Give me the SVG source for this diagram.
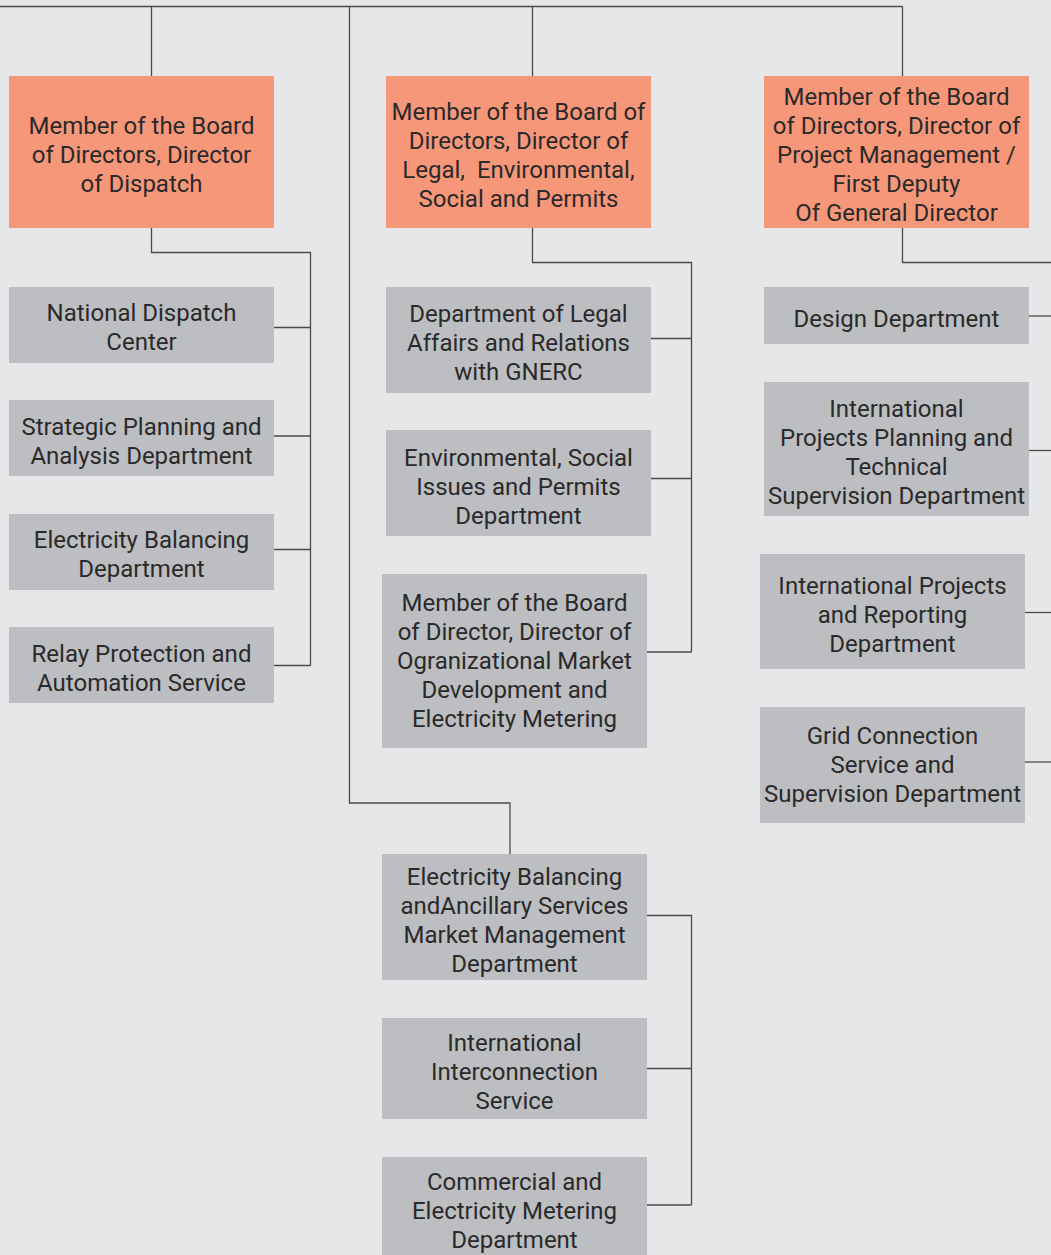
<svg xmlns="http://www.w3.org/2000/svg" width="1051" height="1255" viewBox="0 0 1051 1255">
<style>
.bg{fill:#e6e7e9}
.lead{fill:#f7977a}
.unit{fill:#bdbec1}
text{font-family:Roboto,"Noto Sans","DejaVu Sans",sans-serif;font-size:24px;fill:#2a2a2a;text-anchor:middle}
.pre{white-space:pre}
.conn path{fill:none;stroke:#4a4a4a;stroke-width:1.3}
</style>
<rect class="bg" x="0" y="0" width="1051" height="1255"/>
<g class="conn" id="connectors">
<path d="M0 6.5H902.5"/>
<path d="M151.5 6.5V76"/>
<path d="M349.5 6.5V803H510V854"/>
<path d="M532.5 6.5V76"/>
<path d="M902.5 6.5V76"/>
<path d="M151.5 228V252.5H310.5V665.5"/>
<path d="M274 327.5H310.5"/>
<path d="M274 436H310.5"/>
<path d="M274 549.5H310.5"/>
<path d="M274 665.5H310.5"/>
<path d="M532.5 228V262.5H691.5V652"/>
<path d="M651 338.5H691.5"/>
<path d="M651 478.5H691.5"/>
<path d="M647 652H691.5"/>
<path d="M647 915.5H691.5V1205"/>
<path d="M647 1068.5H691.5"/>
<path d="M647 1205H691.5"/>
<path d="M902.5 228V262.5H1051"/>
<path d="M1029 316H1051"/>
<path d="M1029 450.5H1051"/>
<path d="M1025 612.5H1051"/>
<path d="M1025 762H1051"/>
</g>
<g id="dir-dispatch">
<rect class="lead" x="9" y="76" width="265" height="152"/>
<text x="141.5" y="134">Member of the Board</text>
<text x="141.5" y="163">of Directors, Director</text>
<text x="141.5" y="192">of Dispatch</text>
</g>
<g id="dir-legal">
<rect class="lead" x="386" y="76" width="265" height="152"/>
<text x="518.5" y="120">Member of the Board of</text>
<text x="518.5" y="149">Directors, Director of</text>
<text class="pre" xml:space="preserve" x="518.5" y="178">Legal,  Environmental,</text>
<text x="518.5" y="207">Social and Permits</text>
</g>
<g id="dir-project">
<rect class="lead" x="764" y="76" width="265" height="152"/>
<text x="896.5" y="105">Member of the Board</text>
<text x="896.5" y="134">of Directors, Director of</text>
<text x="896.5" y="163">Project Management /</text>
<text x="896.5" y="192">First Deputy</text>
<text x="896.5" y="221">Of General Director</text>
</g>
<g id="national-dispatch">
<rect class="unit" x="9" y="287" width="265" height="76"/>
<text x="141.5" y="321">National Dispatch</text>
<text x="141.5" y="350">Center</text>
</g>
<g id="strategic-planning">
<rect class="unit" x="9" y="400" width="265" height="76"/>
<text x="141.5" y="435">Strategic Planning and</text>
<text x="141.5" y="464">Analysis Department</text>
</g>
<g id="electricity-balancing">
<rect class="unit" x="9" y="514" width="265" height="76"/>
<text x="141.5" y="548">Electricity Balancing</text>
<text x="141.5" y="577">Department</text>
</g>
<g id="relay-protection">
<rect class="unit" x="9" y="627" width="265" height="76"/>
<text x="141.5" y="662">Relay Protection and</text>
<text x="141.5" y="691">Automation Service</text>
</g>
<g id="legal-affairs">
<rect class="unit" x="386" y="287" width="265" height="106"/>
<text x="518.5" y="322">Department of Legal</text>
<text x="518.5" y="351">Affairs and Relations</text>
<text x="518.5" y="380">with GNERC</text>
</g>
<g id="environmental">
<rect class="unit" x="386" y="430" width="265" height="106"/>
<text x="518.5" y="466">Environmental, Social</text>
<text x="518.5" y="495">Issues and Permits</text>
<text x="518.5" y="524">Department</text>
</g>
<g id="dir-market">
<rect class="unit" x="382" y="574" width="265" height="174"/>
<text x="514.5" y="611">Member of the Board</text>
<text x="514.5" y="640">of Director, Director of</text>
<text x="514.5" y="669">Ogranizational Market</text>
<text x="514.5" y="698">Development and</text>
<text x="514.5" y="727">Electricity Metering</text>
</g>
<g id="balancing-ancillary">
<rect class="unit" x="382" y="854" width="265" height="126"/>
<text x="514.5" y="885">Electricity Balancing</text>
<text x="514.5" y="914">andAncillary Services</text>
<text x="514.5" y="943">Market Management</text>
<text x="514.5" y="972">Department</text>
</g>
<g id="interconnection">
<rect class="unit" x="382" y="1018" width="265" height="101"/>
<text x="514.5" y="1051">International</text>
<text x="514.5" y="1080">Interconnection</text>
<text x="514.5" y="1109">Service</text>
</g>
<g id="commercial-metering">
<rect class="unit" x="382" y="1157" width="265" height="98"/>
<text x="514.5" y="1190">Commercial and</text>
<text x="514.5" y="1219">Electricity Metering</text>
<text x="514.5" y="1248">Department</text>
</g>
<g id="design">
<rect class="unit" x="764" y="287" width="265" height="57"/>
<text x="896.5" y="327">Design Department</text>
</g>
<g id="intl-planning">
<rect class="unit" x="764" y="382" width="265" height="134"/>
<text x="896.5" y="417">International</text>
<text x="896.5" y="446">Projects Planning and</text>
<text x="896.5" y="475">Technical</text>
<text x="896.5" y="504">Supervision Department</text>
</g>
<g id="intl-reporting">
<rect class="unit" x="760" y="554" width="265" height="115"/>
<text x="892.5" y="594">International Projects</text>
<text x="892.5" y="623">and Reporting</text>
<text x="892.5" y="652">Department</text>
</g>
<g id="grid-connection">
<rect class="unit" x="760" y="707" width="265" height="116"/>
<text x="892.5" y="744">Grid Connection</text>
<text x="892.5" y="773">Service and</text>
<text x="892.5" y="802">Supervision Department</text>
</g>
</svg>
